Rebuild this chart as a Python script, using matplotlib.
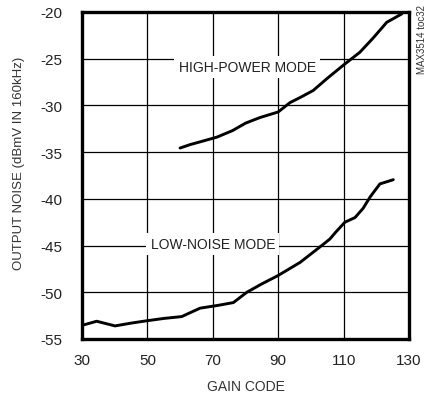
import matplotlib
matplotlib.use('Agg')
import matplotlib.pyplot as plt

# data
hp_code = [60.0, 63, 66.1, 71.2, 76, 80, 84.4, 90.0, 93.6, 97, 100.7, 105, 109.9, 115.0, 119, 123.2, 127.8]
hp_noise = [-34.56, -34.2, -33.9, -33.4, -32.7, -31.9, -31.3, -30.7, -29.7, -29.1, -28.4, -27.1, -25.7, -24.3, -22.8, -21.1, -20.2]

ln_code = [30.4, 34.5, 40.1, 45, 49.8, 55, 60.5, 66.1, 71.6, 76.3, 80.4, 85, 90.0, 96.7, 103.3, 105.8,
           107.5, 110.4, 113.5, 116, 118.1, 121.1, 125.2]
ln_noise = [-53.5, -53.1, -53.6, -53.3, -53.05, -52.8, -52.6, -51.7, -51.4, -51.1, -50.0, -49.1, -48.2, -46.8, -45.0, -44.3,
            -43.6, -42.5, -42.0, -41.0, -39.8, -38.4, -37.95]

xticks = [30, 50, 70, 90, 110, 130]
yticks = [-55, -50, -45, -40, -35, -30, -25, -20]

FONT = ['Liberation Sans Narrow', 'Liberation Sans', 'DejaVu Sans']
plt.rcParams['font.family'] = FONT

fig = plt.figure(figsize=(4.32, 4.02), dpi=100)
ax = fig.add_axes([82/432, 1 - 340/402, 327/432, 327/402])

ax.plot(hp_code, hp_noise, color='black', lw=2.1, solid_capstyle='round', solid_joinstyle='round')
ax.plot(ln_code, ln_noise, color='black', lw=2.1, solid_capstyle='round', solid_joinstyle='round')

ax.set_xlim(30, 130)
ax.set_ylim(-55, -20)
ax.set_xticks(xticks)
ax.set_yticks(yticks)
ax.set_xticklabels([str(v) for v in xticks])
ax.set_yticklabels([str(v) for v in yticks])
ax.tick_params(length=0, labelsize=11, labelcolor='#222222', pad=14)
ax.tick_params(axis='x', pad=10)
ax.grid(True, color='black', lw=0.9)
for s in ax.spines.values():
    s.set_linewidth(2.4)

ax.text(80.5, -25.9, 'HIGH-POWER MODE', fontsize=10, ha='center', va='center',
        color='#222222', bbox=dict(facecolor='white', edgecolor='none', pad=3))
ax.text(70, -44.8, 'LOW-NOISE MODE', fontsize=10, ha='center', va='center',
        color='#222222', bbox=dict(facecolor='white', edgecolor='none', pad=3))

ax.set_xlabel('GAIN CODE', fontsize=10, color='#333333', labelpad=9)
ax.set_ylabel('OUTPUT NOISE (dBmV IN 160kHz)', fontsize=9.5, color='#333333')
ax.yaxis.set_label_coords(-0.175, 0.54)

fig.text(422/432, 1 - 40/402, 'MAX3514 toc32', rotation=90, fontsize=7,
         ha='center', va='center', color='#333333')

fig.savefig('out.png', dpi=100)
